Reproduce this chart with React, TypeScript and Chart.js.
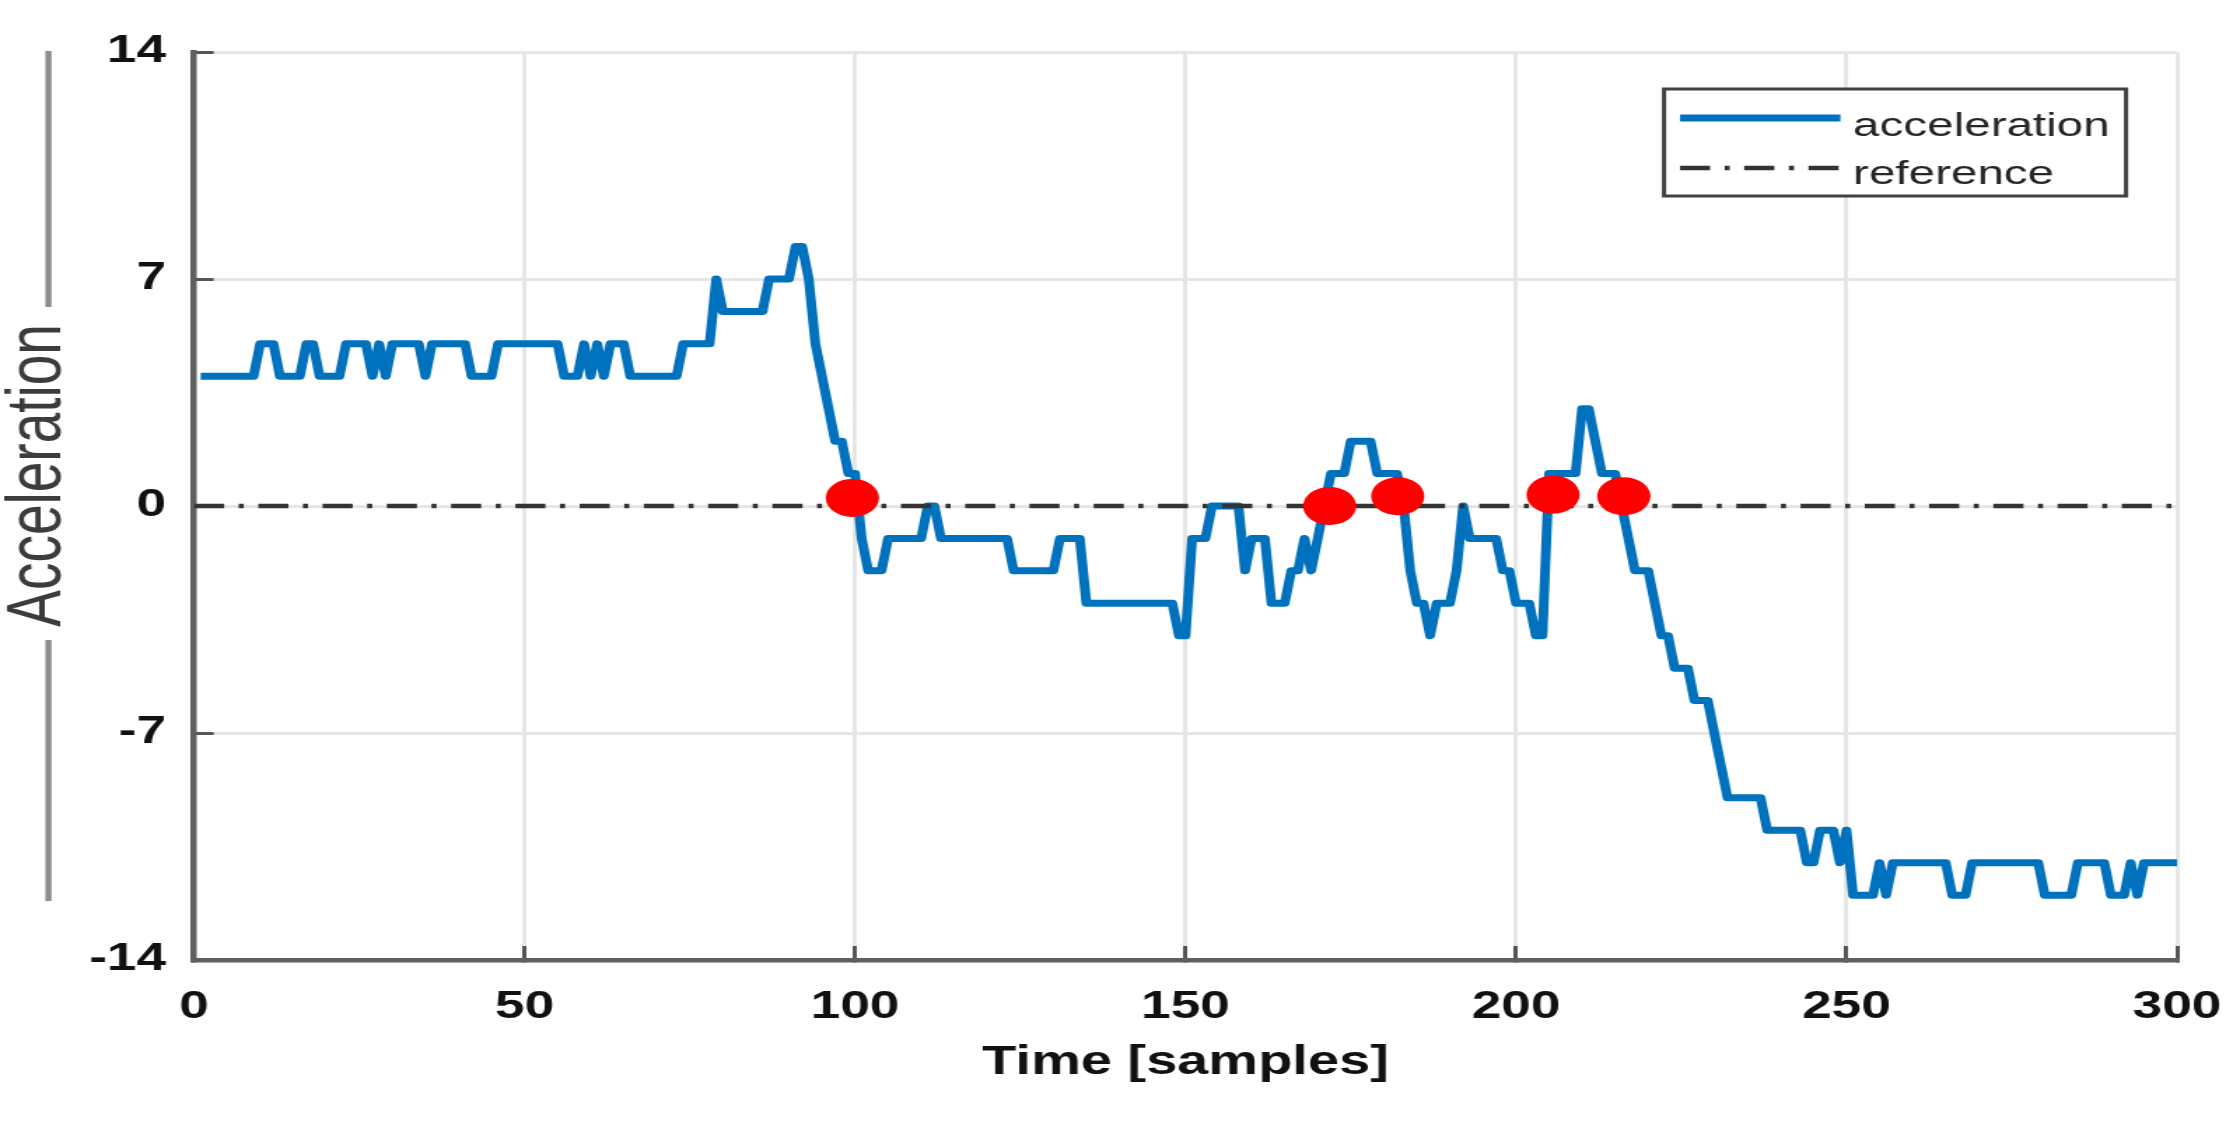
import React, { useEffect, useRef } from 'react';
import { Chart, registerables } from 'chart.js';

Chart.register(...registerables);

// ---------------- data ----------------
const firstSample = 1;
const accelerationSamples = [
  4, 4, 4, 4, 4, 4, 4, 4, 4, 5,
  5, 5, 4, 4, 4, 4, 5, 5, 4, 4,
  4, 4, 5, 5, 5, 5, 4, 5, 4, 5,
  5, 5, 5, 5, 4, 5, 5, 5, 5, 5,
  5, 4, 4, 4, 4, 5, 5, 5, 5, 5,
  5, 5, 5, 5, 5, 4, 4, 4, 5, 4,
  5, 4, 5, 5, 5, 4, 4, 4, 4, 4,
  4, 4, 4, 5, 5, 5, 5, 5, 7, 6,
  6, 6, 6, 6, 6, 6, 7, 7, 7, 7,
  8, 8, 7, 5, 4, 3, 2, 2, 1, 1,
  -1, -2, -2, -2, -1, -1, -1, -1, -1, -1,
  0, 0, -1, -1, -1, -1, -1, -1, -1, -1,
  -1, -1, -1, -2, -2, -2, -2, -2, -2, -2,
  -1, -1, -1, -1, -3, -3, -3, -3, -3, -3,
  -3, -3, -3, -3, -3, -3, -3, -3, -4, -4,
  -1, -1, -1, 0, 0, 0, 0, 0, -2, -1,
  -1, -1, -3, -3, -3, -2, -2, -1, -2, -1,
  0, 1, 1, 1, 2, 2, 2, 2, 1, 1,
  1, 1, 0, -2, -3, -3, -4, -3, -3, -3,
  -2, 0, -1, -1, -1, -1, -1, -2, -2, -3,
  -3, -3, -4, -4, 1, 1, 1, 1, 1, 3,
  3, 2, 1, 1, 1, 0, -1, -2, -2, -2,
  -3, -4, -4, -5, -5, -5, -6, -6, -6, -7,
  -8, -9, -9, -9, -9, -9, -9, -10, -10, -10,
  -10, -10, -10, -11, -11, -10, -10, -10, -11, -10,
  -12, -12, -12, -12, -11, -12, -11, -11, -11, -11,
  -11, -11, -11, -11, -11, -12, -12, -12, -11, -11,
  -11, -11, -11, -11, -11, -11, -11, -11, -11, -12,
  -12, -12, -12, -12, -11, -11, -11, -11, -11, -12,
  -12, -12, -11, -12, -11, -11, -11, -11, -11, -11,
];

const referenceTimes = [0, 300];
const referenceValues = [0, 0];

const crossingTimes = [99.6, 171.8, 182.1, 205.6, 216.3];
const crossingValues = [0.25, 0, 0.3, 0.35, 0.3];

const xTickValues = [0, 50, 100, 150, 200, 250, 300];
const yTickValues = [-14, -7, 0, 7, 14];

const seriesLabels = ['acceleration', 'reference'];
const xTitle = 'Time [samples]';
const yTitle = 'Acceleration';

// ---------------- styling ----------------
const NARROW = "'Liberation Sans Narrow', 'Arial Narrow', 'Liberation Sans', Arial, sans-serif";
const SANS = "'Liberation Sans', Arial, sans-serif";
const BLUE = '#0072BD';
const REF_COLOR = '#333333';
const REF_DASH = [21.5, 10.4, 3.6, 10.4];

const decorPlugin = {
  id: 'matlabDecor',
  afterDraw(chart: any) {
    const { ctx, chartArea } = chart;
    ctx.save();
    // rules beside the y-axis title
    ctx.strokeStyle = '#8c8c8c';
    ctx.lineWidth = 4.3;
    ctx.setLineDash([]);
    ctx.beginPath();
    ctx.moveTo(34.6, chartArea.top - 1);
    ctx.lineTo(34.6, chartArea.top + 255);
    ctx.moveTo(34.6, chartArea.top + 588);
    ctx.lineTo(34.6, chartArea.top + 849);
    ctx.stroke();

    // legend box
    const boxW = 330;
    const boxH = 107;
    const bx = chartArea.right - 36.4 - boxW;
    const by = chartArea.top + 37;
    ctx.fillStyle = '#ffffff';
    ctx.fillRect(bx, by, boxW, boxH);
    ctx.lineWidth = 3;
    ctx.strokeStyle = '#404040';
    ctx.strokeRect(bx, by, boxW, boxH);

    const rowLineY = [by + 29, by + 79];
    const rowTextY = [by + 47, by + 95];
    seriesLabels.forEach((label, i) => {
      const ds = chart.data.datasets.find((d: any) => d.label === label);
      if (!ds) return;
      ctx.beginPath();
      ctx.setLineDash(ds.borderDash || []);
      ctx.lineWidth = ds.borderWidth;
      ctx.strokeStyle = ds.borderColor;
      ctx.lineCap = 'butt';
      ctx.moveTo(bx + 11.4, rowLineY[i]);
      ctx.lineTo(bx + 126, rowLineY[i]);
      ctx.stroke();
      ctx.setLineDash([]);
      ctx.font = `34px ${SANS}`;
      ctx.fillStyle = '#262626';
      ctx.textBaseline = 'alphabetic';
      ctx.textAlign = 'left';
      ctx.fillText(label, bx + 135, rowTextY[i]);
    });
    ctx.restore();
  },
};

export default function App() {
  const canvasRef = useRef<HTMLCanvasElement | null>(null);

  useEffect(() => {
    const canvas = canvasRef.current;
    if (!canvas) return;

    const accelerationPoints = accelerationSamples.map((v, i) => ({ x: firstSample + i, y: v }));
    const referencePoints = referenceTimes.map((t, i) => ({ x: t, y: referenceValues[i] }));
    const crossingPoints = crossingTimes.map((t, i) => ({ x: t, y: crossingValues[i] }));

    const gridCommon = {
      color: '#e6e6e6',
      lineWidth: 3,
      drawTicks: true,
      tickLength: -14,
      tickColor: '#555555',
      tickWidth: 3,
    };
    const borderCommon = { display: true, color: '#5f5f5f', width: 4.5 };

    const chart = new Chart(canvas, {
      type: 'line',
      data: {
        datasets: [
          {
            label: 'crossings',
            data: crossingPoints,
            showLine: false,
            pointRadius: 19,
            pointHoverRadius: 19,
            pointBackgroundColor: '#ff0000',
            pointBorderWidth: 0,
            borderColor: '#ff0000',
            order: 0,
          },
          {
            label: seriesLabels[1],
            data: referencePoints,
            borderColor: REF_COLOR,
            borderWidth: 4.5,
            borderDash: REF_DASH,
            pointRadius: 0,
            fill: false,
            order: 1,
          },
          {
            label: seriesLabels[0],
            data: accelerationPoints,
            borderColor: BLUE,
            borderWidth: 7,
            pointRadius: 0,
            fill: false,
            tension: 0,
            borderJoinStyle: 'round',
            order: 2,
          },
        ],
      },
      options: {
        responsive: false,
        maintainAspectRatio: false,
        devicePixelRatio: 1,
        animation: false,
        layout: { padding: { left: 0, right: 45, top: 52, bottom: 0 } },
        plugins: {
          legend: { display: false },
          tooltip: { enabled: false },
          title: { display: false },
        },
        scales: {
          x: {
            type: 'linear',
            position: 'bottom',
            min: 0,
            max: 300,
            afterBuildTicks: (s: any) => {
              s.ticks = xTickValues.map((v) => ({ value: v }));
            },
            afterFit: (s: any) => {
              s.height = 165;
              s.paddingLeft = 0;
              s.paddingRight = 0;
            },
            grid: gridCommon,
            border: borderCommon,
            ticks: {
              color: '#111111',
              padding: 43,
              maxRotation: 0,
              autoSkip: false,
              font: { family: NARROW, size: 38, weight: 'bold', lineHeight: 1 },
            },
            title: {
              display: true,
              text: xTitle,
              color: '#111111',
              font: { family: NARROW, size: 40, weight: 'bold', lineHeight: 1 },
              padding: { top: 0, bottom: 42 },
            },
          },
          y: {
            type: 'linear',
            position: 'left',
            min: -14,
            max: 14,
            afterBuildTicks: (s: any) => {
              s.ticks = yTickValues.map((v) => ({ value: v }));
            },
            afterFit: (s: any) => {
              s.width = 138.6;
              s.paddingTop = 0;
              s.paddingBottom = 0;
            },
            grid: gridCommon,
            border: borderCommon,
            ticks: {
              color: '#111111',
              padding: 34,
              font: { family: NARROW, size: 38, weight: 'bold', lineHeight: 1 },
            },
            title: {
              display: true,
              text: '    ' + yTitle,
              color: '#3c3c3c',
              font: { family: SANS, size: 55, weight: 'normal', lineHeight: 1 },
              padding: { top: 0, bottom: 0 },
            },
          },
        },
      } as any,
      plugins: [decorPlugin],
    });

    return () => chart.destroy();
  }, []);

  return (
    <div
      style={{
        position: 'absolute',
        left: 0,
        top: 0,
        width: 2240,
        height: 1125,
        background: '#ffffff',
        overflow: 'hidden',
      }}
    >
      <canvas
        ref={canvasRef}
        width={1600}
        height={1125}
        style={{ display: 'block', width: '2240px', height: '1125px' }}
      />
    </div>
  );
}
